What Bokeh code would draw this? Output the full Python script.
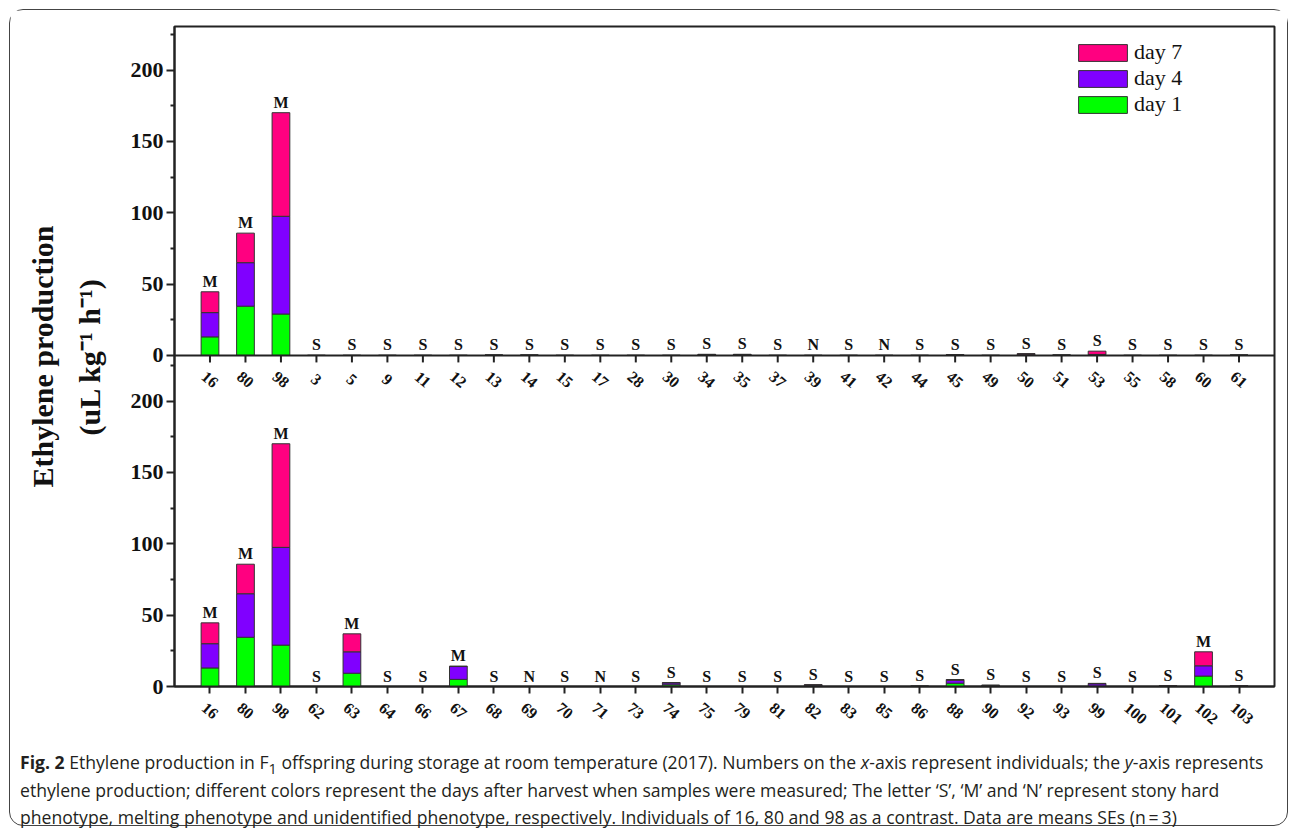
import numpy as np
from bokeh.plotting import figure
from bokeh.models import (ColumnDataSource, FixedTicker, Span, Legend, LegendItem,
                          LabelSet, Div, Range1d, LinearAxis)
from bokeh.layouts import column
from bokeh.embed import file_html
from bokeh.resources import INLINE
from bokeh.core.properties import value

# ---------------- data ----------------
top_ids = ["16", "80", "98", "3", "5", "9", "11", "12", "13", "14", "15", "17", "28", "30", "34",
           "35", "37", "39", "41", "42", "44", "45", "49", "50", "51", "53", "55", "58", "60", "61"]
top_day1 = [13.0, 34.5, 29.0, 0, 0, 0, 0, 0, 0.1, 0.1, 0, 0, 0, 0, 0.3,
            0.3, 0, 0, 0, 0, 0, 0.2, 0, 0.3, 0.1, 0.3, 0, 0, 0, 0.1]
top_day4 = [17.0, 30.5, 68.5, 0, 0, 0, 0, 0, 0.1, 0.1, 0, 0, 0, 0, 0.3,
            0.3, 0, 0, 0, 0, 0, 0.2, 0, 0.5, 0.1, 0.4, 0, 0, 0, 0.1]
top_day7 = [14.6, 20.7, 72.6, 0, 0, 0, 0, 0, 0.1, 0.1, 0, 0, 0, 0, 0.2,
            0.2, 0, 0, 0, 0, 0, 0.1, 0, 0.5, 0.1, 2.3, 0, 0, 0, 0.1]
top_pheno = ["M", "M", "M", "S", "S", "S", "S", "S", "S", "S", "S", "S", "S", "S", "S",
             "S", "S", "N", "S", "N", "S", "S", "S", "S", "S", "S", "S", "S", "S", "S"]

bot_ids = ["16", "80", "98", "62", "63", "64", "66", "67", "68", "69", "70", "71", "73", "74", "75",
           "79", "81", "82", "83", "85", "86", "88", "90", "92", "93", "99", "100", "101", "102", "103"]
bot_day1 = [13.0, 34.5, 29.0, 0, 9.3, 0, 0, 5.0, 0, 0, 0, 0, 0, 1.2, 0,
            0, 0, 0.5, 0, 0, 0.1, 2.3, 0.5, 0, 0, 0.3, 0, 0.2, 7.3, 0.2]
bot_day4 = [17.0, 30.5, 68.5, 0, 15.0, 0, 0, 9.0, 0, 0, 0, 0, 0, 1.3, 0,
            0, 0, 0.5, 0, 0, 0.1, 2.1, 0.3, 0, 0, 1.6, 0, 0.2, 7.2, 0.2]
bot_day7 = [14.6, 20.7, 72.6, 0, 12.6, 0, 0, 0.3, 0, 0, 0, 0, 0, 0.3, 0,
            0, 0, 0.3, 0, 0, 0.1, 0.5, 0.1, 0, 0, 0.3, 0, 0.1, 9.8, 0.1]
bot_pheno = ["M", "M", "M", "S", "M", "S", "S", "M", "S", "N", "S", "N", "S", "S", "S",
             "S", "S", "S", "S", "S", "S", "S", "S", "S", "S", "S", "S", "S", "M", "S"]

y_major = [0, 50, 100, 150, 200]
y_minor = [25, 75, 125, 175, 225]
series_names = ["day 7", "day 4", "day 1"]
colors = {"day 1": "#00FF00", "day 4": "#8000FF", "day 7": "#FF0080"}

caption_html = ("<b>Fig. 2</b> Ethylene production in F<sub style='line-height:0'>1</sub> offspring during storage at room "
                "temperature (2017). Numbers on the <i>x</i>-axis represent individuals; the <i>y</i>-axis represents<br>"
                "ethylene production; different colors represent the days after harvest when samples were measured; "
                "The letter \u2018S\u2019, \u2018M\u2019 and \u2018N\u2019 represent stony hard<br>"
                "phenotype, melting phenotype and unidentified phenotype, respectively. Individuals of 16, 80 and 98 "
                "as a contrast. Data are means SEs (n\u2009=\u20093)")

# ---------------- layout constants ----------------
OFF = 232          # baseline of the upper panel in the shared y coordinate
YMAX = 462.5
SERIF = "Liberation Serif"
AX = "#222222"
LABEL_SHIFT = 0.17  # horizontal centring of rotated bottom labels (in category units)


def panel_source(ids, d1, d4, d7, ph, base):
    n = len(ids)
    x = np.arange(1, n + 1)
    b = np.full(n, float(base))
    t1 = b + np.asarray(d1, float)
    t4 = t1 + np.asarray(d4, float)
    t7 = t4 + np.asarray(d7, float)
    return ColumnDataSource(dict(x=x, ids=ids, ph=ph, base=b, t1=t1, t4=t4, t7=t7))


src_top = panel_source(top_ids, top_day1, top_day4, top_day7, top_pheno, OFF)
src_bot = panel_source(bot_ids, bot_day1, bot_day4, bot_day7, bot_pheno, 0)
npos = len(top_ids)

p = figure(width=1277, height=735, x_range=Range1d(0, npos + 1), y_range=Range1d(0, YMAX),
           output_backend="svg", toolbar_location=None,
           min_border_left=164, min_border_right=13, min_border_top=16, min_border_bottom=59)
p.xgrid.visible = False
p.ygrid.visible = False
p.outline_line_color = AX
p.outline_line_width = 2
p.background_fill_color = "white"

renderers = {}
for src in (src_top, src_bot):
    r1 = p.vbar(x="x", width=0.5, bottom="base", top="t1", source=src,
                fill_color=colors["day 1"], line_color="#333333", line_width=1)
    r4 = p.vbar(x="x", width=0.5, bottom="t1", top="t4", source=src,
                fill_color=colors["day 4"], line_color="#333333", line_width=1)
    r7 = p.vbar(x="x", width=0.5, bottom="t4", top="t7", source=src,
                fill_color=colors["day 7"], line_color="#333333", line_width=1)
    if src is src_top:
        renderers = {"day 1": r1, "day 4": r4, "day 7": r7}
    p.text(x="x", y="t7", text="ph", source=src, text_align="center", text_baseline="bottom",
           y_offset=-2, text_font=value(SERIF), text_font_style="bold", text_font_size="16px",
           text_color="#111111")

# upper panel x axis (line, ticks, labels)
p.add_layout(LabelSet(x="x", y="base", text="ids", source=src_top, angle=-0.70,
                      text_align="center", text_baseline="middle", y_offset=-24,
                      text_font=value(SERIF), text_font_style="bold", text_font_size="16px",
                      text_color="#111111"))
p.add_layout(Span(location=OFF, dimension="width", line_color=AX, line_width=2))
p.ray(x="x", y="base", length=7, length_units="screen", angle=-np.pi / 2, source=src_top,
      line_color=AX, line_width=2)

# left axis covering both panels
ticks = list(y_major) + [OFF + v for v in y_major]
minor = list(y_minor) + [OFF + v for v in y_minor]
yax = p.yaxis[0]
yax.ticker = FixedTicker(ticks=ticks, minor_ticks=minor)
yax.major_label_overrides = {OFF + v: str(v) for v in y_major}
yax.major_label_text_font = SERIF
yax.major_label_text_font_style = "bold"
yax.major_label_text_font_size = "22px"
yax.major_label_text_color = "#111111"
yax.major_label_standoff = 3
yax.major_tick_out = 8
yax.major_tick_in = 0
yax.minor_tick_out = 4
yax.minor_tick_in = 0
yax.axis_line_width = 2
yax.axis_line_color = AX
yax.major_tick_line_color = AX
yax.major_tick_line_width = 2
yax.minor_tick_line_color = AX
yax.minor_tick_line_width = 2
yax.axis_label = "Ethylene production\n(uL kg\u207b\u00b9 h\u207b\u00b9)"
yax.axis_label_text_font = SERIF
yax.axis_label_text_font_style = "bold"
yax.axis_label_text_font_size = "30px"
yax.axis_label_text_color = "#111111"
yax.axis_label_standoff = 22
yax.axis_label_text_line_height = 1.4

# bottom axis: ticks on the main axis, labels on a second (shifted) axis just below it
xax = p.xaxis[0]
xax.ticker = FixedTicker(ticks=list(range(1, npos + 1)), minor_ticks=[])
xax.major_label_overrides = {i: "" for i in range(1, npos + 1)}
xax.major_label_text_font_size = "0px"
xax.major_label_standoff = 0
xax.major_tick_out = 7
xax.major_tick_in = 0
xax.axis_line_width = 2
xax.axis_line_color = AX
xax.major_tick_line_color = AX
xax.major_tick_line_width = 2

p.extra_x_ranges = {"labels": Range1d(LABEL_SHIFT, npos + 1 + LABEL_SHIFT)}
lab_ax = LinearAxis(x_range_name="labels",
                    ticker=FixedTicker(ticks=list(range(1, npos + 1)), minor_ticks=[]),
                    major_label_overrides={i + 1: t for i, t in enumerate(bot_ids)},
                    major_label_orientation=-0.70, major_label_standoff=12,
                    major_label_text_font=SERIF, major_label_text_font_style="bold",
                    major_label_text_font_size="16px", major_label_text_color="#111111",
                    axis_line_color=None, major_tick_line_color=None, minor_tick_line_color=None,
                    major_tick_out=0, major_tick_in=0)
p.add_layout(lab_ax, "below")

legend = Legend(items=[LegendItem(label=n, renderers=[renderers[n]]) for n in series_names],
                location=(898, 569), orientation="vertical",
                glyph_width=61, glyph_height=21, label_height=24, spacing=0,
                label_standoff=1, padding=0, margin=0,
                label_text_font=SERIF, label_text_font_size="22px", label_text_color="#111111",
                border_line_alpha=0, background_fill_alpha=0)
p.add_layout(legend)

caption = Div(text=caption_html, width=1277, height=80, margin=0,
              styles={"font-family": "Open Sans", "font-size": "17.6px", "line-height": "27.5px",
                      "color": "#231f20", "white-space": "nowrap", "padding-left": "10px",
                      "padding-top": "4px"})

layout = column(p, caption, spacing=0, margin=(9, 0, 0, 9),
                styles={"border": "1.5px solid #444", "border-radius": "14px"})

open("out.html", "w").write(file_html(layout, INLINE))
